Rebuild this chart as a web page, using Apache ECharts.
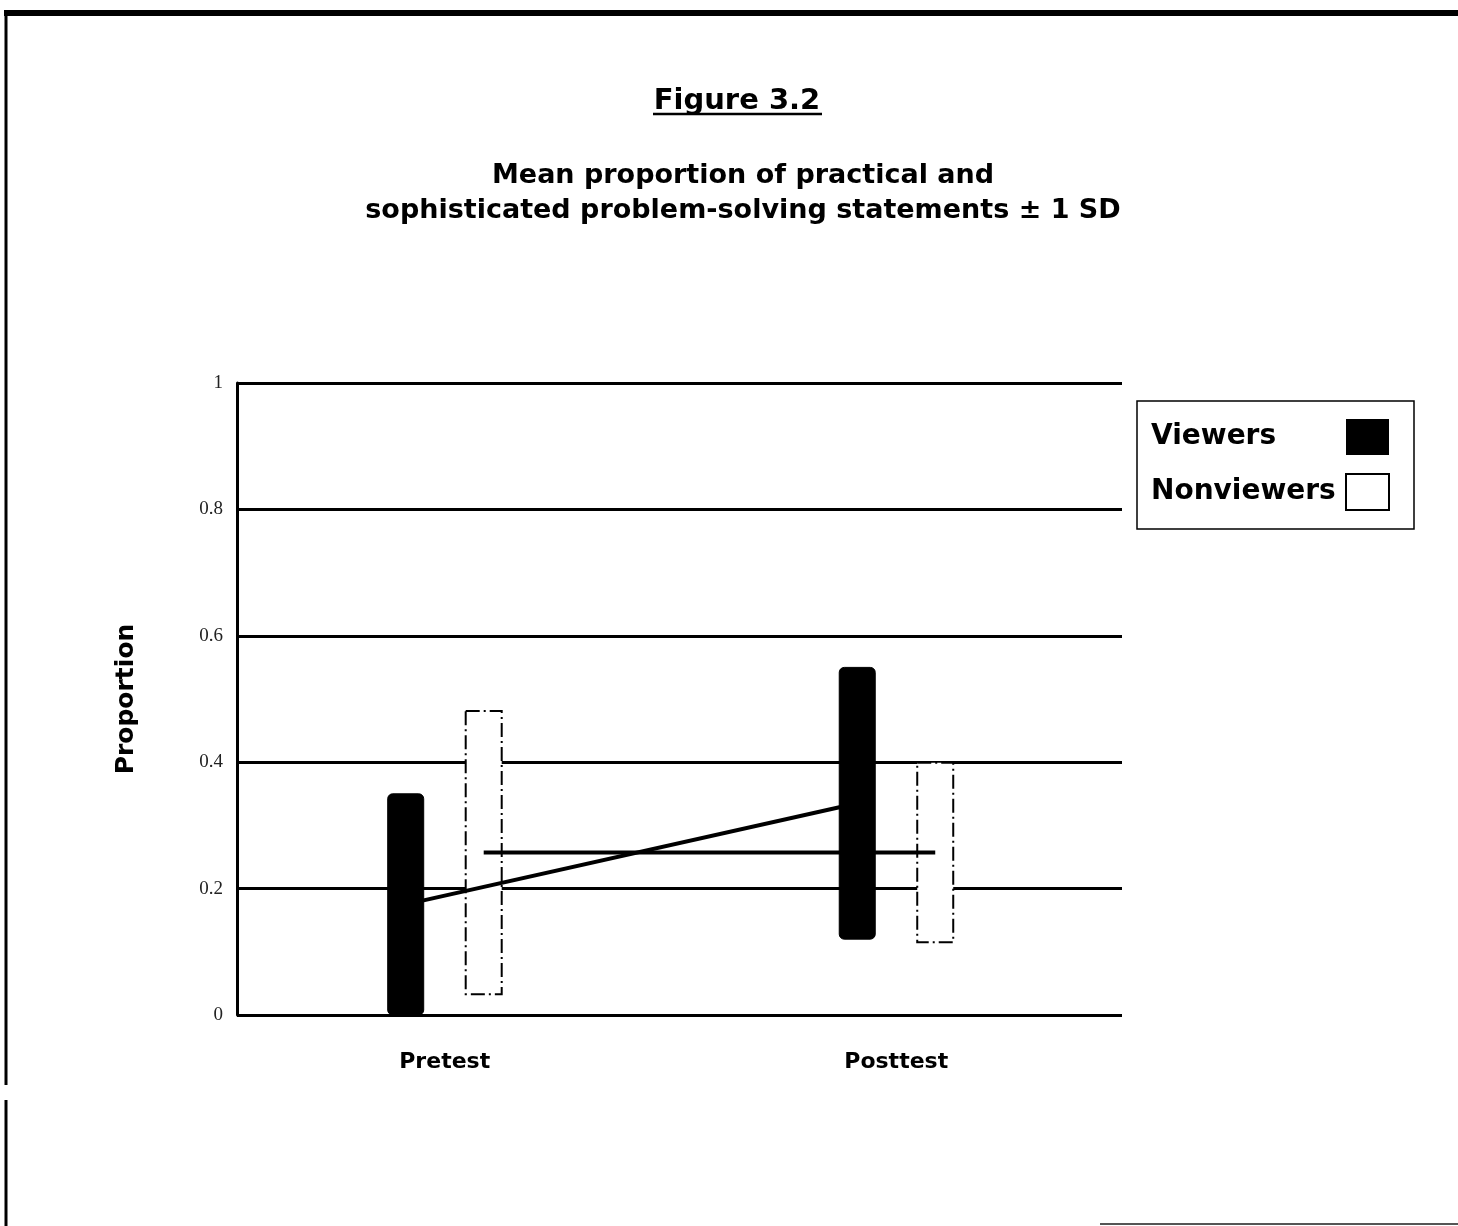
<!DOCTYPE html>
<html>
<head>
<meta charset="utf-8">
<script src="https://cdn.jsdelivr.net/npm/echarts@6/dist/echarts.min.js"></script>
<style>
html,body{margin:0;padding:0;background:#fff;}
#chart{width:1458px;height:1226px;}
</style>
</head>
<body>
<div id="chart"></div>
<script>
// ---- data ----
const categories = ['Pretest', 'Posttest'];
const viewersMean = [0.175, 0.335];
const viewersSD = [0.175, 0.215];
const nonviewersMean = [0.257, 0.257];
const nonviewersSD = [0.224, 0.142];
const yTicks = [0, 0.2, 0.4, 0.6, 0.8, 1];

const FONT = 'DejaVu Sans';
const chart = echarts.init(document.getElementById('chart'));

function makeSeries(name, means, sds, offset, barStyle, lineColor) {
  const data = categories.map((c, i) => [i, means[i] - sds[i], means[i] + sds[i], means[i]]);
  return {
    name: name,
    type: 'custom',
    xAxisIndex: 0,
    yAxisIndex: 0,
    itemStyle: barStyle.legend,
    data: data,
    z: 5,
    renderItem: function (params, api) {
      const i = params.dataIndex;
      const x = api.value(0);
      const top = api.coord([x, api.value(2)]);
      const bot = api.coord([x, api.value(1)]);
      const w = 36;
      const children = [{
        type: 'rect',
        shape: { x: top[0] + offset - w / 2, y: top[1], width: w, height: bot[1] - top[1], r: barStyle.r },
        style: barStyle.rect
      }];
      if (i > 0) {
        const p0 = api.coord([x - 1, means[i - 1]]);
        const p1 = api.coord([x, means[i]]);
        children.push({
          type: 'line',
          shape: { x1: p0[0] + offset, y1: p0[1], x2: p1[0] + offset, y2: p1[1] },
          style: { stroke: lineColor, lineWidth: 4 },
          z2: 10
        });
      }
      return { type: 'group', children: children };
    }
  };
}

const option = {
  backgroundColor: '#fff',
  animation: false,
  title: [
    {
      text: 'Figure 3.2',
      left: 732,
      textAlign: 'center',
      top: 82,
      textStyle: { fontFamily: FONT, fontSize: 29, fontWeight: 'bold', color: '#000' }
    },
    {
      text: 'Mean proportion of practical and\nsophisticated problem-solving statements ± 1 SD',
      left: 738,
      top: 153,
      textAlign: 'center',
      textStyle: { fontFamily: FONT, fontSize: 27, fontWeight: 'bold', color: '#000', lineHeight: 35, align: 'center' }
    }
  ],
  legend: {
    orient: 'vertical',
    left: 1137,
    top: 401,
    padding: [18, 24, 18, 14],
    itemGap: 18,
    itemWidth: 43,
    itemHeight: 36,
    align: 'right',
    icon: 'rect',
    borderColor: '#000',
    borderWidth: 1.5,
    formatter: function (n) { return '{a|' + n + '}'; },
    textStyle: {
      fontFamily: FONT, fontSize: 28, fontWeight: 'bold', color: '#000',
      rich: { a: { fontFamily: FONT, fontSize: 28, fontWeight: 'bold', color: '#000', width: 190, align: 'left' } }
    },
    data: [
      { name: 'Viewers', itemStyle: { color: '#000', borderWidth: 0 } },
      { name: 'Nonviewers', itemStyle: { color: '#fff', borderColor: '#000', borderWidth: 2 } }
    ]
  },
  grid: { left: 237, right: 336, top: 383, bottom: 211 },
  xAxis: [{
    type: 'value',
    min: -0.46,
    max: 1.5,
    axisLine: { show: false },
    axisTick: { show: false },
    splitLine: { show: false },
    axisLabel: {
      customValues: [0, 1],
      formatter: function (v) { return categories[Math.round(v)] || ''; },
      margin: 36,
      fontFamily: FONT, fontSize: 22, fontWeight: 'bold', color: '#000'
    }
  }],
  yAxis: [{
    type: 'value',
    min: 0,
    max: 1,
    interval: 0.2,
    name: 'Proportion',
    nameLocation: 'middle',
    nameGap: 98,
    nameRotate: 90,
    nameTextStyle: { fontFamily: FONT, fontSize: 25, fontWeight: 'bold', color: '#000' },
    axisLine: { show: true, onZero: false, lineStyle: { color: '#000', width: 3 } },
    axisTick: { show: false },
    axisLabel: {
      margin: 14,
      fontFamily: 'Liberation Serif', fontSize: 19, color: '#222',
      formatter: function (v) { return String(v); }
    },
    splitLine: { show: true, lineStyle: { color: '#000', width: 3 } }
  }],
  series: [
    makeSeries('Viewers', viewersMean, viewersSD, -39,
      { legend: { color: '#000' }, r: 5, rect: { fill: '#000', stroke: '#000', lineWidth: 1 } }, '#000'),
    makeSeries('Nonviewers', nonviewersMean, nonviewersSD, 39,
      { legend: { color: '#fff', borderColor: '#000', borderWidth: 2 }, r: 0,
        rect: { fill: '#fff', stroke: '#000', lineWidth: 2, lineDash: [14, 4, 2, 4] } }, '#000')
  ],
  graphic: [
    { type: 'line', shape: { x1: 4, y1: 13, x2: 1458, y2: 13 }, style: { stroke: '#000', lineWidth: 6 } },
    { type: 'line', shape: { x1: 6, y1: 12, x2: 6, y2: 1085 }, style: { stroke: '#000', lineWidth: 3 } },
    { type: 'line', shape: { x1: 6, y1: 1100, x2: 6, y2: 1226 }, style: { stroke: '#000', lineWidth: 3 } },
    { type: 'line', shape: { x1: 1100, y1: 1224, x2: 1458, y2: 1224 }, style: { stroke: '#555', lineWidth: 2 } },
    { type: 'line', shape: { x1: 653, y1: 114, x2: 822, y2: 114 }, style: { stroke: '#000', lineWidth: 2.5 } }
  ]
};
chart.setOption(option);
</script>
</body>
</html>
